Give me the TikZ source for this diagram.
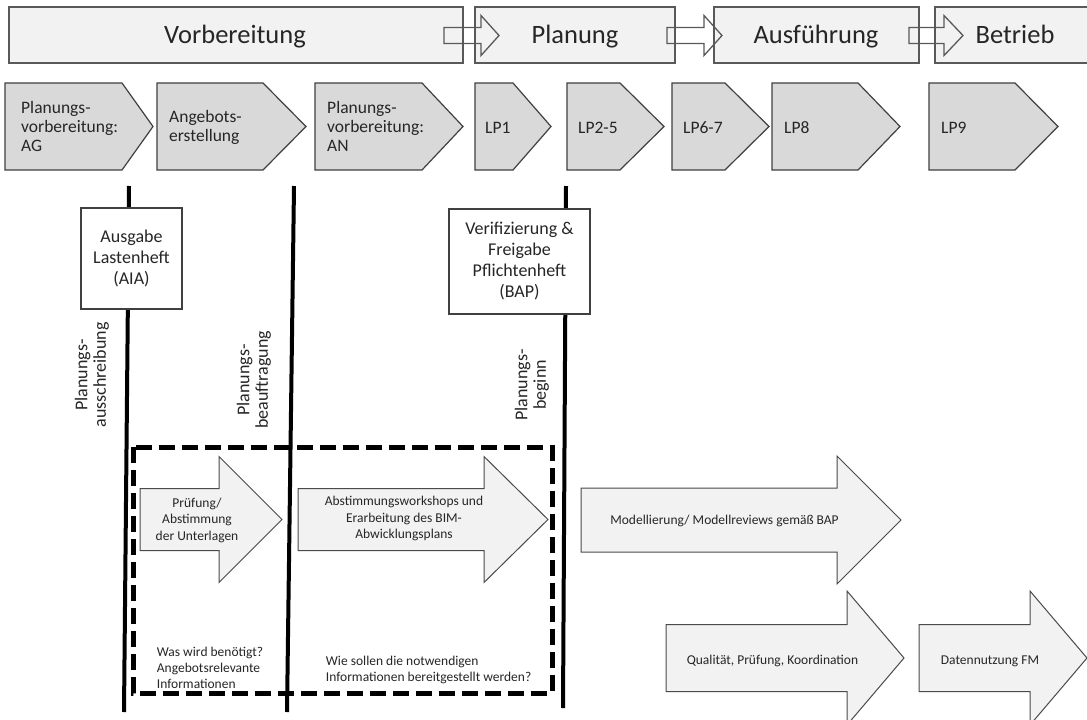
\documentclass[tikz,border=0pt]{standalone}
\usepackage{fontspec}
\setmainfont{Carlito}
\definecolor{barfill}{HTML}{F2F2F2}
\definecolor{barline}{HTML}{595959}
\definecolor{chevfill}{HTML}{D9D9D9}
\definecolor{chevline}{HTML}{404040}
\definecolor{txt}{HTML}{262626}
\definecolor{arrfill}{HTML}{F2F2F2}
\definecolor{arrline}{HTML}{4A4A4A}

% pentagon-shaped process step: left x, start of the point, tip x
\newcommand\chevronstep[3]{%
  \draw[chevron] (#1,83) -- (#2,83) -- (#3,126.5) -- (#2,170) -- (#1,170) -- cycle;}
% block arrow: left x, head base x, tip x, centre y, half shaft, half head
\newcommand\blockarrowshape[7][]{%
  \draw[#1] (#2,{#5-#6}) -- (#3,{#5-#6}) -- (#3,{#5-#7}) -- (#4,#5)
    -- (#3,{#5+#7}) -- (#3,{#5+#6}) -- (#2,{#5+#6}) -- cycle;}

\begin{document}
\begin{tikzpicture}[x=1pt,y=-1pt,
  phasebox/.style={draw=barline,line width=1.4pt,fill=barfill},
  phasearrow/.style={draw=barline,line width=1.3pt,fill=none},
  phasetext/.style={anchor=base,text=txt,inner sep=0,font=\fontsize{26.5}{30}\selectfont},
  chevron/.style={draw=chevline,line width=1.2pt,fill=chevfill},
  chevtext/.style={anchor=west,align=left,text=txt,inner sep=0,font=\fontsize{17.5}{19}\selectfont},
  lptext/.style={anchor=base west,text=txt,inner sep=0,font=\fontsize{17.5}{19}\selectfont},
  milestone/.style={line width=4pt,black},
  gatebox/.style={draw=chevline,line width=1.2pt,fill=white,align=center,text=txt,
    inner sep=0,font=\fontsize{18}{21}\selectfont},
  gatelabel/.style={rotate=90,align=center,text=txt,inner sep=0,font=\fontsize{18}{18.5}\selectfont},
  workarrow/.style={draw=arrline,line width=1pt,fill=arrfill},
  worktext/.style={align=center,text=txt,inner sep=0,font=\fontsize{13.5}{16.5}\selectfont},
  noteline/.style={anchor=base,text=txt,inner sep=0,font=\fontsize{13.5}{16}\selectfont},
  notetext/.style={anchor=west,align=left,text=txt,inner sep=0,font=\fontsize{13.5}{16}\selectfont},
  frame/.style={line width=5pt,black,dash pattern=on 16pt off 7pt}]

\fill[white] (0,0) rectangle (1087,720);
\clip (0,0) rectangle (1087,720);

% phases
\draw[phasebox] (9,7) rectangle (463,63);
\draw[phasebox] (475,7) rectangle (675,63);
\draw[phasebox] (714,7) rectangle (919,63);
\draw[phasebox] (935,7) rectangle (1100,63);
\blockarrowshape[phasearrow]{444}{481}{499}{35.5}{8}{20}
\blockarrowshape[phasearrow]{667}{704}{722}{35.5}{8}{20}
\blockarrowshape[phasearrow]{909}{944}{963}{35.5}{8}{20}
\node[phasetext] (vorb) at (235,43) {Vorbereitung};
\node[phasetext] (plan) at (575,43) {Planung};
\node[phasetext] (ausf) at (816,43) {Ausführung};
\node[phasetext] (betr) at (1015,43) {Betrieb};

% work stages
\chevronstep{5}{122}{153}
\chevronstep{157}{263}{306}
\chevronstep{315}{422}{463}
\chevronstep{475}{513}{551}
\chevronstep{567}{620}{664}
\chevronstep{672}{725}{769}
\chevronstep{772}{858}{900}
\chevronstep{929}{1015}{1058}
\node[chevtext] (pvag) at (21,126.3) {Planungs-\\vorbereitung:\\AG};
\node[chevtext] (ange) at (169,127.4) {Angebots-\\erstellung};
\node[chevtext] (pvan) at (327,126.3) {Planungs-\\vorbereitung:\\AN};
\node[lptext] (lp1) at (485,133) {LP1};
\node[lptext] (lp25) at (578,133) {LP2-5};
\node[lptext] (lp67) at (683,133) {LP6-7};
\node[lptext] (lp8) at (784,133) {LP8};
\node[lptext] (lp9) at (941,133) {LP9};

% milestones
\coordinate (m1top) at (129,186);
\coordinate (m1bot) at (124,712);
\coordinate (m2top) at (294,186);
\coordinate (m2bot) at (287,712);
\coordinate (m3top) at (566,186);
\coordinate (m3bot) at (563,708);
\draw[milestone] (m1top) -- (m1bot);
\draw[milestone] (m2top) -- (m2bot);
\draw[milestone] (m3top) -- (m3bot);

% preparation frame
\draw[frame] (133,447) rectangle (552,693);

% activities
\blockarrowshape[workarrow]{140}{219}{282}{519.5}{31}{63}
\blockarrowshape[workarrow]{298}{484}{548}{519.5}{31}{63}
\blockarrowshape[workarrow]{581}{837}{901}{520}{32}{64}
\blockarrowshape[workarrow]{666}{847}{904}{658}{33.5}{67}
\blockarrowshape[workarrow]{919}{1030}{1087}{658}{33.5}{67}
\node[worktext] (pruef) at (197,520) {Prüfung/\\Abstimmung\\der Unterlagen};
\node[worktext] (works) at (404,518.5) {Abstimmungsworkshops und\\Erarbeitung des BIM-\\Abwicklungsplans};
\node[noteline] (model) at (724.5,524.5) {Modellierung/ Modellreviews gemäß BAP};
\node[noteline] (quali) at (772.5,664.3) {Qualität, Prüfung, Koordination};
\node[noteline] (fm) at (990,664.3) {Datennutzung FM};
\node[notetext] (was) at (156.7,667.5) {Was wird benötigt?\\Angebotsrelevante\\Informationen};
\node[notetext] (wie) at (325.7,670) {Wie sollen die notwendigen\\Informationen bereitgestellt werden?};

% gates
\node[gatebox,minimum width=101pt,minimum height=101pt] (aia) at (131.5,258.5)
  {Ausgabe\\Lastenheft\\(AIA)};
\node[gatebox,minimum width=141pt,minimum height=105pt] (bap) at (519.5,261.5)
  {Verifizierung \&\\Freigabe\\Pflichtenheft\\(BAP)};
\node[gatelabel] (ausschr) at (92,375) {Planungs-\\ausschreibung};
\node[gatelabel] (beauftr) at (254,380) {Planungs-\\beauftragung};
\node[gatelabel] (beginn) at (532,385) {Planungs-\\beginn};
\end{tikzpicture}
\end{document}
